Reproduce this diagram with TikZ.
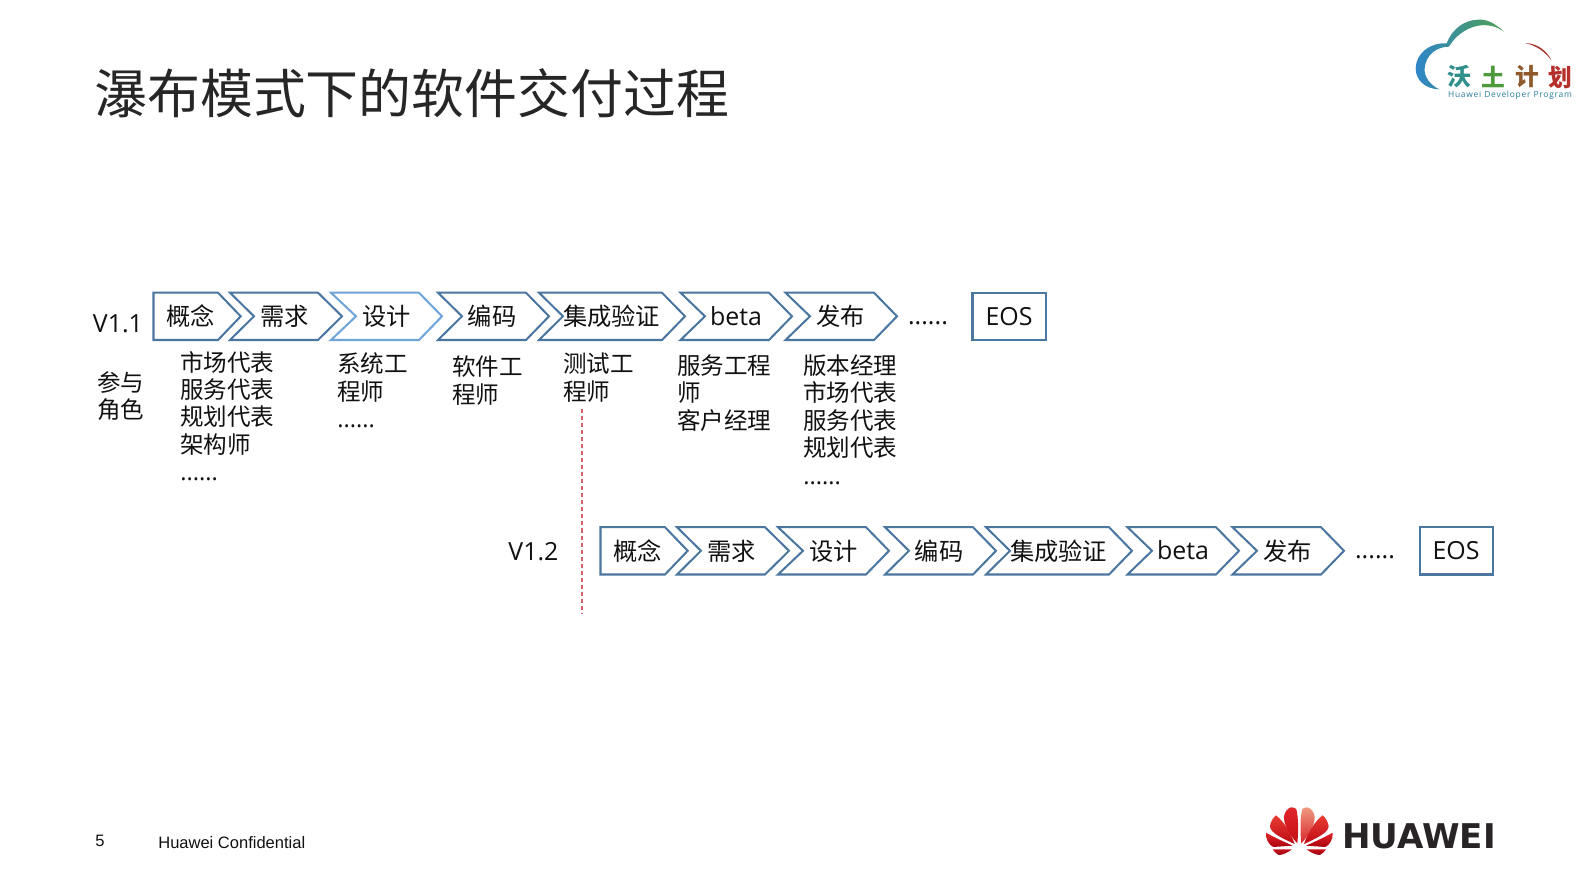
\documentclass[tikz,border=0pt]{standalone}
\usepackage{fontspec}
\setmainfont{Open Sans}
\newfontfamily\cjk{Noto Sans CJK SC}
\newfontfamily\arial{Liberation Sans}
\newfontfamily\brand{DejaVu Sans}
\setlength\lineskiplimit{-20pt}
\definecolor{chevblue}{HTML}{4A769F}
\definecolor{chevlight}{HTML}{6FA5D8}
\definecolor{inktext}{HTML}{111111}
\definecolor{dashred}{HTML}{D9606A}
\definecolor{titleink}{HTML}{262626}
\definecolor{brandink}{HTML}{282425}
\definecolor{petAtop}{HTML}{EF9A80}
\definecolor{petAbot}{HTML}{D8242B}
\definecolor{petBtop}{HTML}{E0262B}
\definecolor{petBbot}{HTML}{C50F16}
\definecolor{petCtop}{HTML}{E83C32}
\definecolor{petCbot}{HTML}{BE0A14}
\definecolor{petDtop}{HTML}{E12328}
\definecolor{petDbot}{HTML}{AA050F}
\definecolor{petEtop}{HTML}{C80F19}
\definecolor{petEbot}{HTML}{96050F}
\definecolor{cloudblue}{HTML}{2E86C8}
\definecolor{cloudteal}{HTML}{3E9A82}
\definecolor{cloudgreen}{HTML}{50A050}
\definecolor{cloudred}{HTML}{A8352B}
\definecolor{logoteal}{HTML}{2F8F8A}
\definecolor{logogreen}{HTML}{4C9A3C}
\definecolor{logobrown}{HTML}{8F5A2C}
\definecolor{logored}{HTML}{B5302A}
\definecolor{logosub}{HTML}{2A7F9E}
\tikzset{
  chevshape/.style={draw=chevblue,line width=1.15pt,line join=miter,fill=white},
  cjktext/.style={inner sep=0pt,anchor=base,text=inktext,font=\cjk\fontsize{13.8}{15.6}\selectfont},
  lattext/.style={inner sep=0pt,anchor=base,text=inktext,font=\fontsize{14.2}{15.6}\selectfont},
  listtext/.style={inner sep=0pt,anchor=north west,align=left,text=inktext,font=\cjk\fontsize{13.4}{15.6}\selectfont},
  footertext/.style={inner sep=0pt,anchor=base west,text=inktext,font=\arial\fontsize{9.4}{11}\selectfont},
  petal/.style={shade,draw=none},
  logochar/.style={inner sep=0pt,anchor=center,font=\cjk\bfseries\fontsize{13.5}{15}\selectfont},
}
% name, left, notch, shoulder, tip, text centre x, text, line colour
\newcommand\chevbox[8]{%
  \path[chevshape,draw=#8] (#2,292.7) -- (#4,292.7) -- (#5,316.3) -- (#4,340) -- (#2,340) -- (#3,316.3) -- cycle;
  \node[cjktext] (#1) at (#6,325.7) {#7};
}
\newcommand\chevlat[8]{%
  \path[chevshape,draw=#8] (#2,292.7) -- (#4,292.7) -- (#5,316.3) -- (#4,340) -- (#2,340) -- (#3,316.3) -- cycle;
  \node[lattext] (#1) at (#6,325) {#7};
}
\newcommand\rowchain[2]{%
  \chevbox{#1a}{153.5}{153.5}{218}{240.7}{190.5}{概念}{chevblue}
  \chevbox{#1b}{230}{254}{318}{342}{284.5}{需求}{chevblue}
  \chevbox{#1c}{331}{356}{419}{442}{386.5}{设计}{#2}
  \chevbox{#1d}{438}{462}{526}{549}{492}{编码}{chevblue}
  \chevbox{#1e}{539}{563}{662}{685}{611.5}{集成验证}{chevblue}
  \chevlat{#1f}{680.5}{705}{769}{792}{736}{beta}{chevblue}
  \chevbox{#1g}{785.5}{810}{874}{897}{840.5}{发布}{chevblue}
  \node[lattext] (#1dots) at (928,324.3) {......};
  \path[chevshape] (972.5,292.7) rectangle (1046,340);
  \node[lattext] (#1eos) at (1009,325) {EOS};
}
\newcommand\listblock[4]{\node[listtext] (#1) at (#2,#3-11.3) {\strut #4};}
\newcommand\dotsline{{\fontspec{Open Sans}......}}
\begin{document}
\begin{tikzpicture}[x=0.02cm,y=-0.02cm]
\useasboundingbox (0,0) rectangle (1587,892);
\fill[white] (0,0) rectangle (1587,892);

% title
\node[inner sep=0pt,anchor=base west,text=titleink,font=\cjk\fontsize{30.1}{34}\selectfont] (title) at (94,114) {瀑布模式下的软件交付过程};

% row 1
\rowchain{r}{chevlight}
\node[lattext] (v11) at (118,332.7) {V1.1};
\listblock{role}{97}{382.5}{参与\\角色}
\listblock{l1}{180}{362}{市场代表\\服务代表\\规划代表\\架构师\\\dotsline}
\listblock{l2}{337}{364}{系统工\\程师\\\dotsline}
\listblock{l3}{452}{367}{软件工\\程师}
\listblock{l4}{563}{364}{测试工\\程师}
\listblock{l5}{677}{365.5}{服务工程\\师\\客户经理}
\listblock{l6}{803}{365.5}{版本经理\\市场代表\\服务代表\\规划代表\\\dotsline}

% row 2
\begin{scope}[shift={(447,234.5)}]
\rowchain{s}{chevblue}
\end{scope}
\node[lattext] (v12) at (533.5,560.5) {V1.2};

% divider
\coordinate (dashtop) at (582,409);
\coordinate (dashend) at (582,614);
\draw[draw=dashred,line width=0.75pt,dash pattern=on 2.3pt off 1.7pt] (dashtop) -- (dashend);

% footer
\node[footertext] (pageno) at (95,846) {5};
\node[footertext] (conf) at (158,848.5) {Huawei Confidential};

% Huawei logo
\begin{scope}[shift={(1299.3,800)},x=0.00667cm,y=-0.00667cm]
  \begin{scope}[xscale=-1]
    \path[petal,top color=petAtop,bottom color=petAbot] (-6,130) .. controls (-30,105) and (-48,70) .. (-46,50) .. controls (-44,35) and (-35,25) .. (-25,22) .. controls (-18,22) and (-12,24) .. (-9,27) .. controls (-3,50) and (-2,90) .. (-6,130) -- cycle;
  \end{scope}
  \path[petal,top color=petBtop,bottom color=petBbot] (-6,130) .. controls (-30,105) and (-48,70) .. (-46,50) .. controls (-44,35) and (-35,25) .. (-25,22) .. controls (-18,22) and (-12,24) .. (-9,27) .. controls (-3,50) and (-2,90) .. (-6,130) -- cycle;
  \foreach \s in {1,-1}{
  \begin{scope}[xscale=\s]
    \path[petal,top color=petCtop,bottom color=petCbot] (-14,132) .. controls (-50,115) and (-85,100) .. (-88,80) .. controls (-88,68) and (-78,52) .. (-70,46) .. controls (-45,65) and (-25,100) .. (-14,132) -- cycle;
    \path[petal,top color=petDtop,bottom color=petDbot] (-100,98) .. controls (-70,115) and (-40,128) .. (-20,137) -- (-78,141) .. controls (-92,135) and (-102,115) .. (-100,98) -- cycle;
    \path[petal,top color=petEtop,bottom color=petEbot] (-80,148) -- (-22,148) .. controls (-35,158) and (-50,165) .. (-62,165) .. controls (-70,160) and (-76,155) .. (-80,148) -- cycle;
  \end{scope}}
\end{scope}
\node[inner sep=0pt,anchor=base west,text=brandink,font=\brand\bfseries\fontsize{19.4}{22}\selectfont] (brand) at (1342,848) {HUAWEI};

% Programme logo
\begin{scope}[shift={(1380,5)},x=0.00667cm,y=-0.00667cm]
  \path[shade,draw=none,left color=cloudblue,middle color=cloudteal,right color=cloudgreen]
    (372,80) .. controls (345,55) and (320,42) .. (295,44) .. controls (250,45) and (215,75) .. (200,115) .. controls (150,112) and (108,145) .. (107,190) .. controls (107,225) and (135,252) .. (178,253) .. controls (150,240) and (132,215) .. (134,190) .. controls (137,150) and (170,125) .. (207,125) .. controls (235,75) and (310,35) .. (372,80) -- cycle;
  \path[fill=cloudred,draw=none] (435,114) .. controls (470,115) and (500,135) .. (515,167) .. controls (495,140) and (470,122) .. (435,114) -- cycle;
\end{scope}
\node[logochar,text=logoteal] (wo) at (1459,77) {沃};
\node[logochar,text=logogreen] (tu) at (1493,77) {土};
\node[logochar,text=logobrown] (ji) at (1527,77) {计};
\node[logochar,text=logored] (hua) at (1560,77) {划};
\node[inner sep=0pt,anchor=center,text=logosub,font=\addfontfeature{LetterSpace=9}\fontsize{4.8}{6}\selectfont] (dev) at (1510,95) {Huawei Developer Program};
\end{tikzpicture}
\end{document}
